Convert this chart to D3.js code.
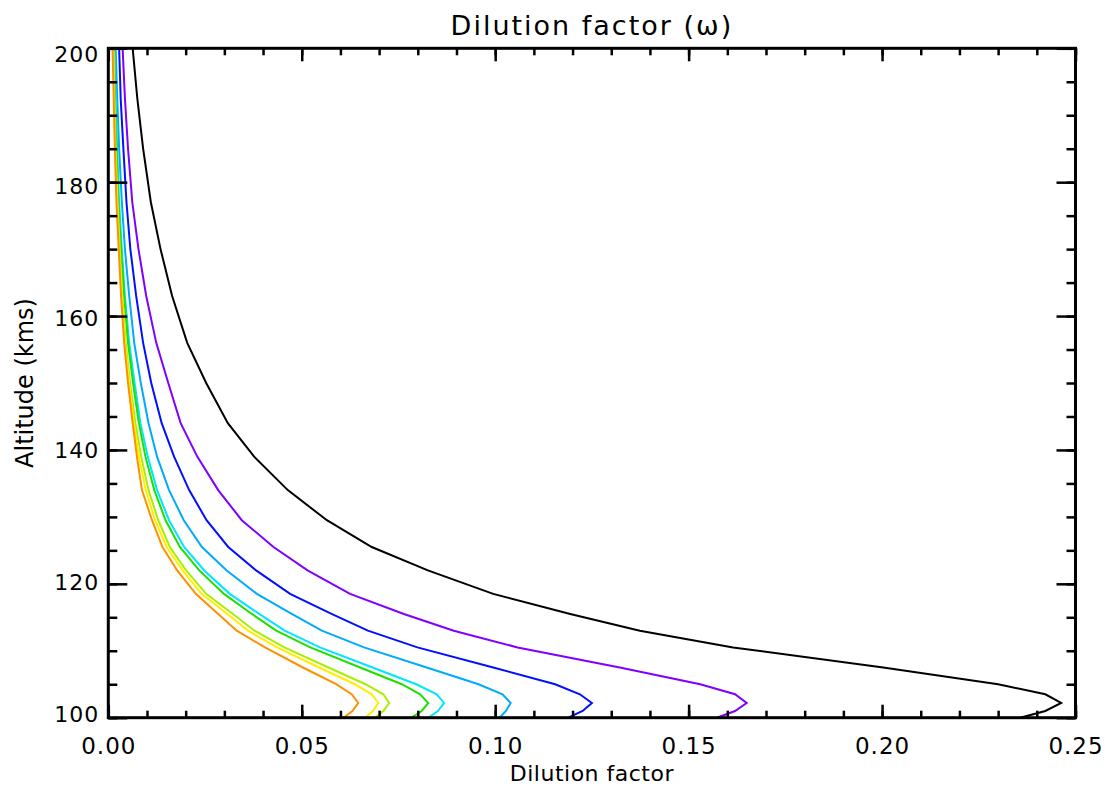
<!DOCTYPE html>
<html>
<head>
<meta charset="utf-8">
<script src="https://cdn.jsdelivr.net/npm/d3@7"></script>
<style>
  html, body { margin: 0; padding: 0; background: #fff; }
  svg { display: block; }
  text { font-family: "DejaVu Sans", sans-serif; fill: #000; }
</style>
</head>
<body>
<svg id="chart"></svg>
<script>
// altitude levels (km), shared by every profile
const altitude = [100, 101, 102.2, 103.5, 105, 107.5, 110.5, 113, 115.5, 118.5, 122, 125.5,
  129.5, 134, 139, 144, 150, 156, 163, 170, 177, 185, 192.5, 200]

// dilution factor profiles, one per curve
const black = [0.2357, 0.2422, 0.2463, 0.2422, 0.2300, 0.2003, 0.1615, 0.1374, 0.1194, 0.0995, 0.0826, 0.0681,
  0.0565, 0.0464, 0.0377, 0.0309, 0.0253, 0.0204, 0.0165, 0.0135, 0.0110, 0.0090, 0.0075, 0.0063]
const purple = [0.1573, 0.1620, 0.1650, 0.1620, 0.1530, 0.1322, 0.1058, 0.0893, 0.0764, 0.0625, 0.0515, 0.0427,
  0.0345, 0.0284, 0.0230, 0.0187, 0.0155, 0.0124, 0.0098, 0.0078, 0.0062, 0.0051, 0.0043, 0.0037]
const blue = [0.1189, 0.1226, 0.1250, 0.1219, 0.1155, 0.0995, 0.0799, 0.0671, 0.0577, 0.0470, 0.0382, 0.0310,
  0.0254, 0.0209, 0.0170, 0.0138, 0.0111, 0.0090, 0.0072, 0.0057, 0.0047, 0.0039, 0.0032, 0.0028]
const lightBlue = [0.1011, 0.1028, 0.1040, 0.1019, 0.0957, 0.0823, 0.0661, 0.0552, 0.0474, 0.0384, 0.0306, 0.0242,
  0.0195, 0.0157, 0.0126, 0.0104, 0.0084, 0.0067, 0.0054, 0.0043, 0.0035, 0.0028, 0.0023, 0.0019]
const cyan = [0.0827, 0.0852, 0.0868, 0.0849, 0.0796, 0.0683, 0.0547, 0.0456, 0.0390, 0.0314, 0.0248, 0.0196,
  0.0157, 0.0126, 0.0102, 0.0083, 0.0068, 0.0054, 0.0043, 0.0035, 0.0028, 0.0023, 0.0019, 0.0016]
const green = [0.0784, 0.0810, 0.0827, 0.0806, 0.0759, 0.0651, 0.0522, 0.0434, 0.0371, 0.0299, 0.0235, 0.0185,
  0.0148, 0.0119, 0.0096, 0.0079, 0.0064, 0.0051, 0.0041, 0.0033, 0.0026, 0.0021, 0.0017, 0.0014]
const yellowGreen = [0.0689, 0.0711, 0.0726, 0.0711, 0.0665, 0.0569, 0.0455, 0.0378, 0.0322, 0.0253, 0.0201, 0.0159,
  0.0129, 0.0104, 0.0085, 0.0070, 0.0056, 0.0045, 0.0036, 0.0030, 0.0024, 0.0019, 0.0016, 0.0013]
const yellow = [0.0664, 0.0684, 0.0698, 0.0681, 0.0637, 0.0545, 0.0436, 0.0361, 0.0308, 0.0241, 0.0192, 0.0151,
  0.0121, 0.0097, 0.0079, 0.0066, 0.0054, 0.0043, 0.0035, 0.0028, 0.0023, 0.0018, 0.0015, 0.0013]
const orange = [0.0608, 0.0631, 0.0646, 0.0629, 0.0589, 0.0503, 0.0405, 0.0332, 0.0284, 0.0226, 0.0178, 0.0140,
  0.0113, 0.0087, 0.0074, 0.0063, 0.0051, 0.0041, 0.0033, 0.0027, 0.0021, 0.0017, 0.0014, 0.0011]

const xMajor = [0, 0.05, 0.10, 0.15, 0.20, 0.25]
const xMinor = d3.range(0, 0.2501, 0.01)
const yMajor = [100, 120, 140, 160, 180, 200]
const yMinor = d3.range(100, 200.1, 5)

const titleText = 'Dilution factor (\u03c9)'
const xTitle = 'Dilution factor'
const yTitle = 'Altitude (kms)'

const width = 1105
const height = 787
const plotL = 108.3, plotR = 1075.5, plotT = 48.3, plotB = 717.7

const svg = d3.select('#chart')
  .attr('width', width)
  .attr('height', height)

svg.append('rect').attr('width', width).attr('height', height).attr('fill', '#fff')

//setup scales
const xScale = d3.scaleLinear().domain([0, 0.25]).range([plotL, plotR])
const yScale = d3.scaleLinear().domain([100, 200]).range([plotB, plotT])

//lines
const series = [
  [black, '#000000'],
  [purple, '#7f00ff'],
  [blue, '#0010ff'],
  [lightBlue, '#00aaff'],
  [cyan, '#00e6ff'],
  [green, '#1ee000'],
  [yellowGreen, '#aaee00'],
  [yellow, '#ffee00'],
  [orange, '#ff9000']
]

const lineGen = (vals) => d3.line()
  .x((d, i) => xScale(vals[i]))
  .y(d => yScale(d))

svg.append('g')
  .selectAll('path')
  .data(series)
  .join('path')
  .attr('d', d => lineGen(d[0])(altitude))
  .style('fill', 'none')
  .style('stroke', d => d[1])
  .style('stroke-width', 2)
  .style('stroke-linejoin', 'miter')

//axes, ticks pointing inward on every side
function axis(gen, transform, size, values, labels, pad, fs) {
  const g = svg.append('g')
    .attr('transform', transform)
    .call(gen.tickValues(values).tickSizeInner(size).tickSizeOuter(0).tickPadding(pad)
      .tickFormat(labels ? labels : ''))
  g.select('.domain').remove()
  g.selectAll('line').attr('stroke', '#000').attr('stroke-width', 2.5)
  g.selectAll('text').style('font-size', fs + 'px').style('font-family', '"DejaVu Sans", sans-serif')
  return g
}

const xFmt = d3.format('.2f')
axis(d3.axisBottom(xScale), `translate(0,${plotB})`, -13, xMajor, xFmt, 20, 23)
  .selectAll('text').attr('letter-spacing', '1px')
axis(d3.axisBottom(xScale), `translate(0,${plotB})`, -7, xMinor, null, 0, 10)
axis(d3.axisTop(xScale), `translate(0,${plotT})`, -13, xMajor, null, 0, 10)
axis(d3.axisTop(xScale), `translate(0,${plotT})`, -7, xMinor, null, 0, 10)

const yLab = axis(d3.axisLeft(yScale), `translate(${plotL},0)`, -19, yMajor, d3.format('d'), 9, 22)
yLab.selectAll('text')
  .attr('letter-spacing', '1px')
  .attr('dy', d => (0.34 + (d - 140) * 0.0045) + 'em')
axis(d3.axisLeft(yScale), `translate(${plotL},0)`, -9, yMinor, null, 0, 10)
axis(d3.axisRight(yScale), `translate(${plotR},0)`, -19, yMajor, null, 0, 10)
axis(d3.axisRight(yScale), `translate(${plotR},0)`, -9, yMinor, null, 0, 10)

//frame
svg.append('rect')
  .attr('x', plotL).attr('y', plotT)
  .attr('width', plotR - plotL).attr('height', plotB - plotT)
  .attr('fill', 'none')
  .attr('stroke', '#000')
  .attr('stroke-width', 3)

//titles
svg.append('text')
  .attr('x', (plotL + plotR) / 2)
  .attr('y', 35)
  .attr('text-anchor', 'middle')
  .attr('letter-spacing', '2px')
  .style('font-size', '27px')
  .text(titleText)

svg.append('text')
  .attr('x', (plotL + plotR) / 2)
  .attr('y', 781)
  .attr('text-anchor', 'middle')
  .attr('letter-spacing', '0.5px')
  .style('font-size', '22px')
  .text(xTitle)

svg.append('text')
  .attr('transform', `translate(33,${(plotT + plotB) / 2}) rotate(-90)`)
  .attr('text-anchor', 'middle')
  .style('font-size', '24px')
  .text(yTitle)
</script>
</body>
</html>
